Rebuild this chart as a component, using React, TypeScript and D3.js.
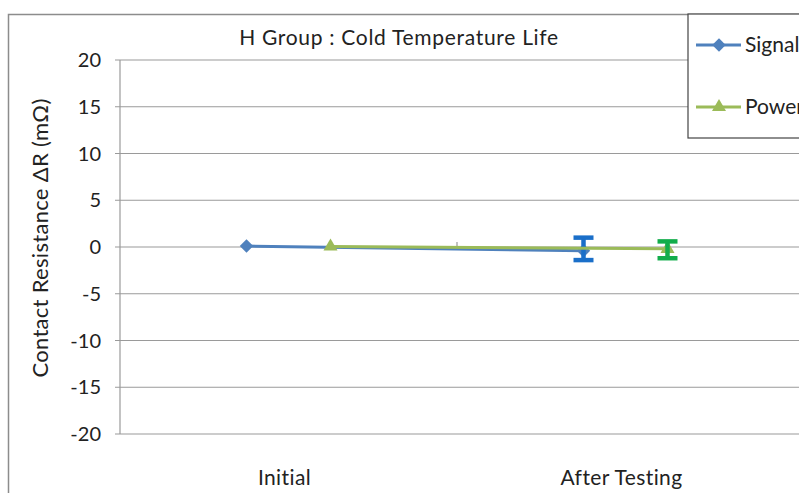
import React from "react";
import * as d3 from "d3";

const categories = ["Initial", "After Testing"];
const yTicks = [20, 15, 10, 5, 0, -5, -10, -15, -20];
const signalValues = [0.1, -0.4];
const powerValues = [0.05, -0.2];
// error bar extents on the "After Testing" point
const signalErrLow = [null, -1.4];
const signalErrHigh = [null, 1.0];
const powerErrLow = [null, -1.2];
const powerErrHigh = [null, 0.6];

const W = 799;
const H = 493;
const font = "Lato, 'Open Sans', sans-serif";

const App = () => {
  const x = d3.scaleBand().domain(categories).range([120, 794]);
  const y = d3.scaleLinear().domain([-20, 20]).range([434, 60]);
  const offset = 42;

  const series = [
    { name: "Signal", values: signalValues, lo: signalErrLow, hi: signalErrHigh, color: "#4f81bd", err: "#1a6fc9", dx: -offset, marker: "diamond" },
    { name: "Power", values: powerValues, lo: powerErrLow, hi: powerErrHigh, color: "#9bbb59", err: "#12ad4b", dx: offset, marker: "triangle" },
  ];

  const cx = (c, dx) => x(c) + x.bandwidth() / 2 + dx;
  const line = d3.line<any>().x((d) => d[0]).y((d) => d[1]);
  // excel style diamond = square turned 45deg
  const diamond = d3.symbol(d3.symbolSquare, 90)();
  const triangle = d3.symbol(d3.symbolTriangle, 85)();
  const markerT = (m, px, py) => (m === "diamond" ? `translate(${px},${py}) rotate(45)` : `translate(${px},${py})`);

  return (
    <svg width={W} height={H} style={{ position: "absolute", left: 0, top: 0 }}>
      <rect x={0} y={0} width={W} height={H} fill="#fff" />
      <rect x={8.5} y={14.5} width={W + 20} height={H + 20} fill="#fff" stroke="#8c8c8c" strokeWidth={1.5} />
      <text x={399} y={45} textAnchor="middle" fontFamily={font} fontSize={21} letterSpacing={0.7} fill="#222">
        H Group : Cold Temperature Life
      </text>
      {yTicks.map((t) => (
        <g key={t}>
          <line x1={115} x2={W} y1={y(t)} y2={y(t)} stroke="#9a9a9a" strokeWidth={1.2} />
          <text x={101} y={y(t) + 7} textAnchor="end" fontFamily={font} fontSize={20} fill="#222">
            {t}
          </text>
        </g>
      ))}
      <line x1={120} x2={120} y1={y(20)} y2={y(-20)} stroke="#9a9a9a" strokeWidth={1.2} />
      {categories.slice(1).map((c) => (
        <line key={c} x1={x(c)} x2={x(c)} y1={y(0) - 5} y2={y(0)} stroke="#9a9a9a" strokeWidth={1.2} />
      ))}
      {categories.map((c) => (
        <text key={c} x={x(c) + x.bandwidth() / 2 - 4} y={485} textAnchor="middle" fontFamily={font} fontSize={21} letterSpacing={0.4} fill="#222">
          {c}
        </text>
      ))}
      <text
        transform={`translate(48,238) rotate(-90)`}
        textAnchor="middle"
        fontFamily={font}
        fontSize={22}
        letterSpacing={0.3}
        fill="#222"
      >
        Contact Resistance ΔR (mΩ)
      </text>
      {series.map((s) => (
        <g key={s.name}>
          <path
            d={line(s.values.map((v, i) => [cx(categories[i], s.dx), y(v)])) || ""}
            fill="none"
            stroke={s.color}
            strokeWidth={3}
          />
          {s.values.map((v, i) => (
            <path
              key={i}
              d={s.marker === "diamond" ? diamond : triangle}
              transform={markerT(s.marker, cx(categories[i], s.dx), y(v))}
              fill={s.color}
            />
          ))}
          {s.values.map((v, i) => {
            if (s.lo[i] == null) return null;
            const px = cx(categories[i], s.dx);
            const y1 = y(s.hi[i]);
            const y2 = y(s.lo[i]);
            return (
              <g key={"e" + i} stroke={s.err} strokeWidth={4.5}>
                <line x1={px} x2={px} y1={y1} y2={y2} />
                <line x1={px - 10} x2={px + 10} y1={y1} y2={y1} />
                <line x1={px - 10} x2={px + 10} y1={y2} y2={y2} />
              </g>
            );
          })}
        </g>
      ))}
      <rect x={688} y={14} width={130} height={124} fill="#fff" stroke="#444" strokeWidth={1.2} />
      {series.map((s, i) => {
        const ly = 45 + i * 62;
        return (
          <g key={"l" + s.name}>
            <line x1={696} x2={741} y1={ly} y2={ly} stroke={s.color} strokeWidth={3} />
            <path d={s.marker === "diamond" ? diamond : triangle} transform={markerT(s.marker, 719, ly)} fill={s.color} />
            <text x={745} y={ly + 7} fontFamily={font} fontSize={21} fill="#222">
              {s.name}
            </text>
          </g>
        );
      })}
    </svg>
  );
};

export default App;
